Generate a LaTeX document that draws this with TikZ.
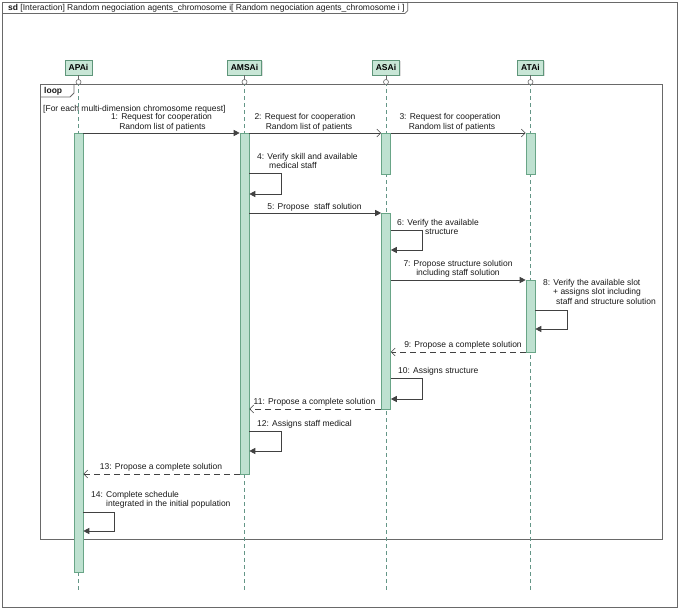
\documentclass[tikz,border=0pt]{standalone}
\usepackage{fontspec}
\setmainfont{Liberation Sans}
\usetikzlibrary{arrows.meta,shadows}
\definecolor{headfill}{RGB}{200,230,214}
\definecolor{headborder}{RGB}{95,150,122}
\definecolor{actfill}{RGB}{190,225,208}
\definecolor{actborder}{RGB}{105,165,135}
\definecolor{lifecol}{RGB}{100,150,135}
\definecolor{framecol}{RGB}{105,105,105}
\definecolor{arrowcol}{RGB}{65,65,65}
\begin{document}
\begin{tikzpicture}[x=1pt,y=-1pt,
  lbl/.style={font=\fontsize{8.5}{10}\selectfont, inner sep=0pt, anchor=base west, text=black!90},
  lblc/.style={lbl, anchor=base},
  head/.style={draw=headborder, fill=headfill, font=\bfseries\fontsize{8.5}{10}\selectfont,
    inner xsep=3.5pt, inner ysep=0pt, minimum height=15pt, line width=0.6pt,
    drop shadow={shadow xshift=1.5pt, shadow yshift=-1.5pt, fill=black!25}},
  act/.style={draw=actborder, fill=actfill, minimum width=9pt, inner sep=0pt, line width=0.6pt},
  life/.style={draw=lifecol, line width=0.6pt, dash pattern=on 4pt off 3pt},
  circ/.style={circle, draw=framecol, fill=white, minimum size=5pt, inner sep=0pt, line width=0.6pt},
  frame/.style={draw=framecol, line width=0.8pt},
  sync/.style={draw=arrowcol, line width=0.7pt, -{Triangle[length=6pt,width=6pt]}},
  async/.style={draw=arrowcol, line width=0.6pt, -{Straight Barb[length=4pt,width=8pt]}},
  reply/.style={draw=arrowcol, line width=0.6pt, dash pattern=on 6pt off 4pt, -{Straight Barb[length=4pt,width=8pt]}}
]
\useasboundingbox (0,0) rectangle (686,610);
% outer frame
\draw[frame] (2,2) rectangle (677,607);
\node[lbl] (title) at (8,10.5) {\textbf{sd} [Interaction] Random negociation agents\_chromosome i[ Random negociation agents\_chromosome i ]};
\draw[frame] (2,13.5) -- (title.east |- 0,13.5) -- ++(3,-3) -- ++(0,-8.5);

% loop frame
\draw[frame] (40,84) rectangle (662,539);
\node[lbl, font=\bfseries\fontsize{8.5}{10}\selectfont] (looplbl) at (44,94) {loop};
\draw[frame] (40,97) -- (70,97) -- (74,93) -- (74,84);
\node[lbl] (guard) at (43,111) {[For each multi-dimension chromosome request]};

% heads
\node[head] (hAPA) at (78.5,67.5) {APAi};
\node[head] (hAMS) at (244.5,67.5) {AMSAi};
\node[head] (hASA) at (386,67.5) {ASAi};
\node[head] (hATA) at (530.5,67.5) {ATAi};

% lifelines
\coordinate (eAPA) at (78.5,593);
\coordinate (eAMS) at (244.5,593);
\coordinate (eASA) at (386,593);
\coordinate (eATA) at (530.5,593);
\draw[life] (hAPA.south) -- (eAPA);
\draw[life] (hAMS.south) -- (eAMS);
\draw[life] (hASA.south) -- (eASA);
\draw[life] (hATA.south) -- (eATA);
\draw[framecol, line width=0.6pt] (hAPA.south) -- (78.5,82);
\draw[framecol, line width=0.6pt] (hAMS.south) -- (244.5,82);
\draw[framecol, line width=0.6pt] (hASA.south) -- (386,82);
\draw[framecol, line width=0.6pt] (hATA.south) -- (530.5,82);
\node[circ] (cAPA) at (78.5,82) {};
\node[circ] (cAMS) at (244.5,82) {};
\node[circ] (cASA) at (386,82) {};
\node[circ] (cATA) at (530.5,82) {};

% activations
\node[act, minimum height=439pt] (aAPA) at (78.5,352.5) {};
\node[act, minimum height=341pt] (aAMS) at (244.5,303.5) {};
\node[act, minimum height=41pt] (aASA1) at (386,153.5) {};
\node[act, minimum height=41pt] (aATA1) at (530.5,153.5) {};
\node[act, minimum height=196pt] (aASA2) at (386,311) {};
\node[act, minimum height=72pt] (aATA2) at (530.5,316) {};

% 1-3
\node[lblc] (m1a) at (161.5,120) {1: Request for cooperation};
\node[lblc] (m1b) at (162.5,129.5) {Random list of patients};
\draw[sync] (aAPA.east |- 0,133) -- (aAMS.west |- 0,133);
\node[lblc] (m2a) at (305,120) {2: Request for cooperation};
\node[lblc] (m2b) at (309,129.5) {Random list of patients};
\draw[async] (aAMS.east |- 0,133) -- (aASA1.west |- 0,133);
\node[lblc] (m3a) at (450,120) {3: Request for cooperation};
\node[lblc] (m3b) at (452,129.5) {Random list of patients};
\draw[async] (aASA1.east |- 0,133) -- (aATA1.west |- 0,133);

% 4
\node[lbl] (m4a) at (257,159) {4: Verify skill and available};
\node[lbl] (m4b) at (269,168.5) {medical staff};
\draw[sync] (aAMS.east |- 0,173) -| (281,194) -- (aAMS.east |- 0,194);

% 5
\node[lblc] (m5) at (314.5,209) {5: Propose\ \ staff solution};
\draw[sync] (aAMS.east |- 0,213) -- (aASA2.west |- 0,213);

% 6
\node[lbl] (m6a) at (397,225) {6: Verify the available};
\node[lbl] (m6b) at (425,234.5) {structure};
\draw[sync] (aASA2.east |- 0,230) -| (422,250) -- (aASA2.east |- 0,250);

% 7
\node[lblc] (m7a) at (458,266) {7: Propose structure solution};
\node[lblc] (m7b) at (458,275.5) {including staff solution};
\draw[sync] (aASA2.east |- 0,280) -- (aATA2.west |- 0,280);

% 8
\node[lbl] (m8a) at (543,285) {8: Verify the available slot};
\node[lbl] (m8b) at (553,294.5) {+ assigns slot including};
\node[lbl] (m8c) at (556,304) {staff and structure solution};
\draw[sync] (aATA2.east |- 0,310) -| (567,329) -- (aATA2.east |- 0,329);

% 9
\node[lblc] (m9) at (463,347) {9: Propose a complete solution};
\draw[reply] (aATA2.west |- 0,352) -- (aASA2.east |- 0,352);

% 10
\node[lbl] (m10) at (398,373) {10: Assigns structure};
\draw[sync] (aASA2.east |- 0,378) -| (422,399) -- (aASA2.east |- 0,399);

% 11
\node[lblc] (m11) at (314.5,404) {11: Propose a complete solution};
\draw[reply] (aASA2.west |- 0,409) -- (aAMS.east |- 0,409);

% 12
\node[lbl] (m12) at (257,426) {12: Assigns staff medical};
\draw[sync] (aAMS.east |- 0,431) -| (281,451) -- (aAMS.east |- 0,451);

% 13
\node[lblc] (m13) at (161,469) {13: Propose a complete solution};
\draw[reply] (aAMS.west |- 0,474) -- (aAPA.east |- 0,474);

% 14
\node[lbl] (m14a) at (91,497) {14: Complete schedule};
\node[lbl] (m14b) at (106,506.5) {integrated in the initial population};
\draw[sync] (aAPA.east |- 0,512) -| (114,531) -- (aAPA.east |- 0,531);
\end{tikzpicture}
\end{document}
